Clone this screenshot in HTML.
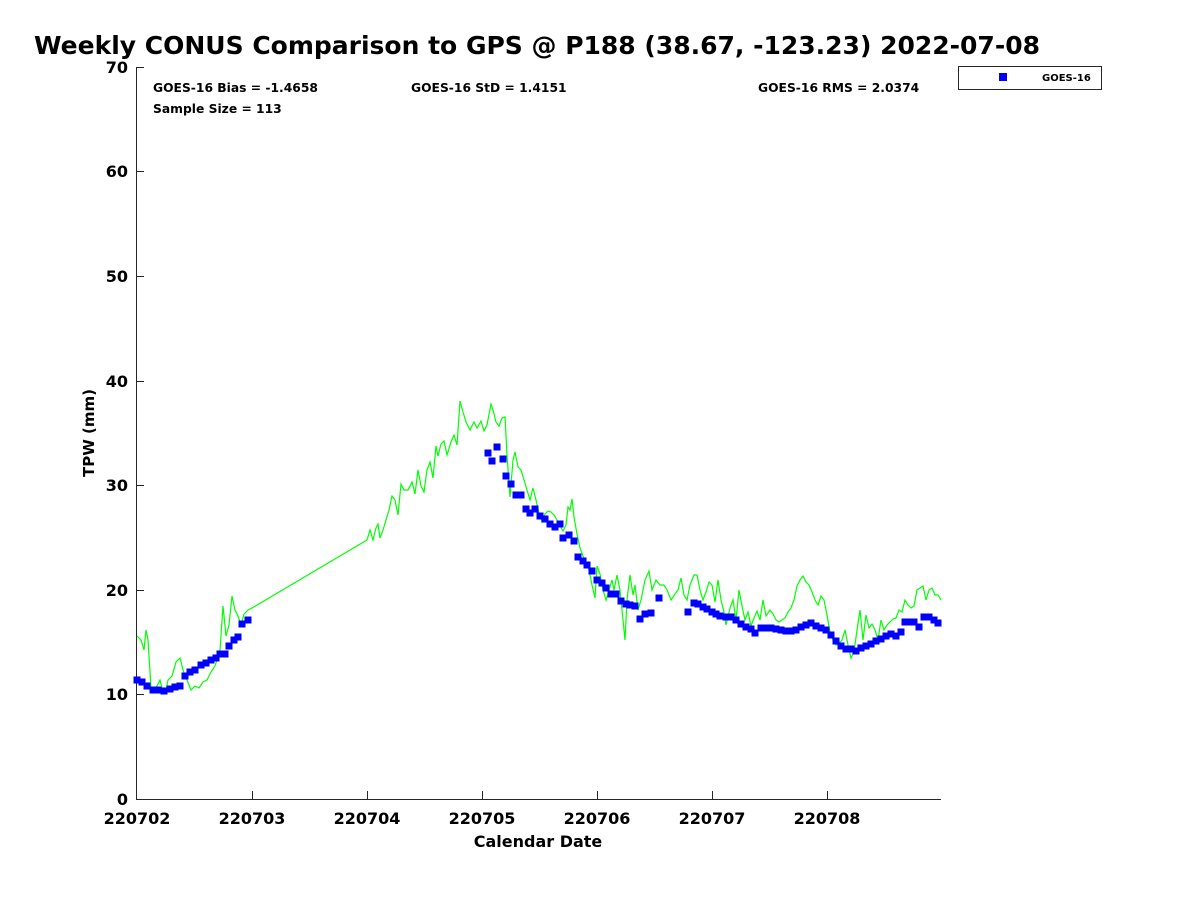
<!DOCTYPE html>
<html><head><style>body{margin:0;background:#fff}svg{display:block}text{font-family:"DejaVu Sans","Liberation Sans",sans-serif;font-weight:bold;fill:#000}</style></head>
<body>
<svg width="1200" height="900" xmlns="http://www.w3.org/2000/svg">
<defs>
<marker id="sq" markerUnits="userSpaceOnUse" markerWidth="7" markerHeight="7" refX="3.5" refY="3.5" viewBox="0 0 7 7" overflow="visible">
<rect x="0" y="0" width="7" height="7" fill="#0000ff"/>
</marker>
</defs>
<text x="34" y="54" font-size="25" textLength="1006" lengthAdjust="spacingAndGlyphs">Weekly CONUS Comparison to GPS @ P188 (38.67, -123.23) 2022-07-08</text>
<g stroke="#262626" stroke-width="1" fill="none">
<line x1="136.5" y1="67" x2="136.5" y2="800"/>
<line x1="136" y1="799.5" x2="941" y2="799.5"/>
<path d="M136 694.5h8M136 590.5h8M136 485.5h8M136 381.5h8M136 276.5h8M136 171.5h8M136 67.5h8"/>
<path d="M252.5 799v-8M367.5 799v-8M482.5 799v-8M597.5 799v-8M712.5 799v-8M827.5 799v-8"/>
</g>
<g font-size="16" fill="#262626" text-anchor="end">
<text x="128" y="805">0</text><text x="128" y="700">10</text><text x="128" y="596">20</text><text x="128" y="491">30</text><text x="128" y="387">40</text><text x="128" y="282">50</text><text x="128" y="177">60</text><text x="128" y="73">70</text>
</g>
<g font-size="16" text-anchor="middle">
<text x="137" y="824">220702</text><text x="252" y="824">220703</text><text x="367" y="824">220704</text><text x="482" y="824">220705</text><text x="597" y="824">220706</text><text x="712" y="824">220707</text><text x="827" y="824">220708</text>
</g>
<text x="538" y="847" font-size="16" text-anchor="middle">Calendar Date</text>
<text transform="translate(94,433) rotate(-90)" font-size="15" text-anchor="middle">TPW (mm)</text>
<g font-size="12.3">
<text x="153" y="92">GOES-16 Bias = -1.4658</text>
<text x="411" y="92">GOES-16 StD = 1.4151</text>
<text x="758" y="92">GOES-16 RMS = 2.0374</text>
<text x="153" y="113">Sample Size = 113</text>
</g>
<rect x="958.5" y="66.5" width="143" height="23" fill="#fff" stroke="#262626"/>
<rect x="999" y="73" width="8" height="8" fill="#0000ff"/>
<text x="1042" y="81" font-size="10">GOES-16</text>
<polyline fill="none" stroke="#00ff00" stroke-width="1.2" points="137,636 141,640 144,650 146,630 148,640 151,688 156,688 160,680 163,692 166,690 168,680 172,676 176,662 180,658 183,670 187,680 191,690 195,686 199,688 203,682 207,680 211,672 215,666 220,650 223,606 226,636 229,625 232,596 235,610 238,616 241,625 244,614 248,610 252,608 367,540 370,530 373,540 376,528 378,524 380,538 383,530 386,520 389,510 392,496 395,500 398,515 401,484 404,490 408,490 412,482 415,494 418,470 421,486 424,492 427,470 430,462 433,478 436,446 438,456 441,444 444,441 447,455 451,442 454,435 457,445 460,401 463,412 466,422 470,430 474,422 477,428 481,421 484,431 487,425 491,404 493,410 496,422 499,426 502,418 505,417 507,455 510,497 513,460 515,452 518,467 521,470 524,480 527,490 530,500 533,488 536,500 539,513 542,522 545,514 548,511 551,512 554,515 557,520 560,526 563,531 566,525 568,507 570,510 572,499 574,517 577,534 580,548 583,556 586,562 589,570 592,585 595,598 597,566 600,574 603,590 606,600 609,590 612,580 614,590 617,575 620,590 622,610 625,640 627,600 630,575 633,595 635,585 638,610 641,600 645,580 649,571 652,590 656,580 660,585 664,585 667,590 671,600 675,594 678,590 681,578 684,595 687,600 690,585 694,575 697,575 700,590 703,600 706,592 709,582 712,585 715,602 718,580 721,600 724,612 726,625 730,608 733,600 736,620 739,590 742,606 745,620 748,612 751,626 754,618 757,611 760,620 763,600 766,616 770,610 773,614 776,620 779,622 782,620 785,618 788,612 791,608 794,600 797,586 800,580 803,576 806,582 809,585 812,592 815,600 818,605 821,596 824,600 827,615 830,632 833,640 836,645 839,643 842,640 845,630 848,645 851,658 854,652 857,630 860,610 863,640 866,615 869,628 872,624 875,630 878,640 881,620 884,630 887,625 890,622 893,619 896,618 899,610 902,612 905,600 908,605 911,608 914,606 917,590 920,588 923,586 926,600 929,590 932,588 935,595 938,595 941,600"/>
<polyline fill="none" stroke="none" marker-start="url(#sq)" marker-mid="url(#sq)" marker-end="url(#sq)" points="137,680 142,682 147,686 153,690 158,690 164,691 170,689 175,687 180,686 185,676 190,672 195,670 201,665 206,663 211,660 216,658 220,654 225,654 229,646 234,640 238,637 242,624 248,620 488,453 492,461 497,447 503,459 506,476 511,484 516,495 521,495 526,509 530,513 535,509 540,516 545,519 550,524 555,527 560,524 563,538 569,535 574,541 578,557 583,561 587,565 592,571 597,580 602,583 606,588 611,594 616,594 621,601 626,604 630,605 635,606 640,619 645,614 651,613 659,598 688,612 694,603 698,604 703,607 707,609 712,612 716,614 720,616 726,617 731,617 736,620 741,624 746,627 751,629 755,633 761,628 766,628 771,628 776,629 781,630 786,631 791,631 796,630 801,627 806,625 811,623 816,626 821,628 826,630 831,635 836,641 841,646 846,649 851,649 856,651 861,648 866,646 871,644 876,641 881,639 886,636 891,634 896,636 901,632 905,622 910,622 914,622 919,627 924,617 929,617 934,620 938,623"/>
</svg>
</body></html>
